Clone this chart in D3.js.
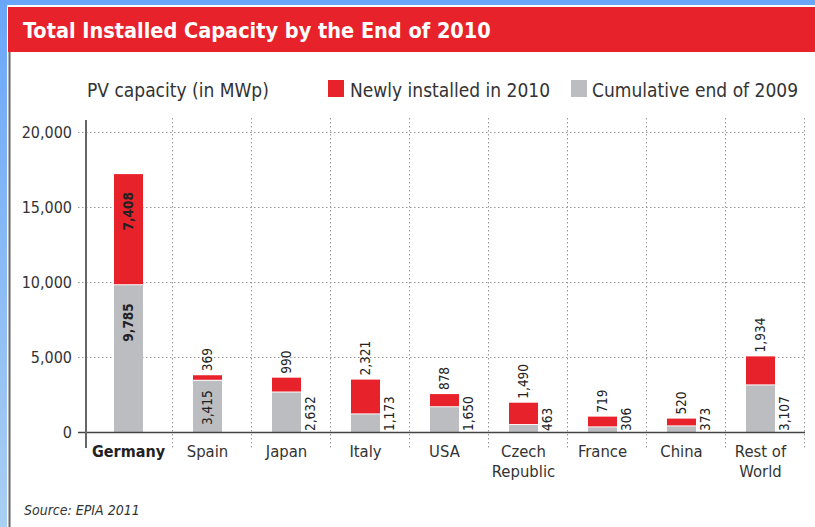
<!DOCTYPE html>
<html>
<head>
<meta charset="utf-8">
<script src="https://cdn.jsdelivr.net/npm/d3@7"></script>
<style>
  body { margin: 0; background: #fff; }
  svg { display: block; font-family: "DejaVu Sans Condensed", "DejaVu Sans", sans-serif; }
</style>
</head>
<body>
<div id="chart"></div>
<script>
const countries = ["Germany", "Spain", "Japan", "Italy", "USA", "Czech Republic", "France", "China", "Rest of World"]
const newly2010 = [7408, 369, 990, 2321, 878, 1490, 719, 520, 1934]
const cum2009 = [9785, 3415, 2632, 1173, 1650, 463, 306, 373, 3107]
const yTicks = [0, 5000, 10000, 15000, 20000]

const W = 815, H = 527
const red = "#e8222b", grey = "#bcbdc0"

const svg = d3.select("#chart").append("svg")
    .attr("width", W).attr("height", H)

// frame
const grad = svg.append("defs").append("linearGradient")
    .attr("id", "side").attr("x1", 0).attr("x2", 0).attr("y1", 0).attr("y2", 1)
grad.append("stop").attr("offset", "0%").attr("stop-color", "#6aa6f8")
grad.append("stop").attr("offset", "100%").attr("stop-color", "#a9cff2")
svg.append("rect").attr("width", W).attr("height", H).attr("fill", "url(#side)")
svg.append("rect").attr("x", 0).attr("y", 0).attr("width", W).attr("height", 5).attr("fill", "#6aa6f8")
svg.append("rect").attr("x", 7).attr("y", 5).attr("width", W - 7).attr("height", H - 5).attr("fill", "#fff")
svg.append("rect").attr("x", 8).attr("y", 7).attr("width", W - 8).attr("height", 45).attr("fill", red)
svg.append("line").attr("x1", 9.5).attr("x2", 9.5).attr("y1", 52).attr("y2", H)
    .attr("stroke", "#666").attr("stroke-width", 2)

svg.append("text").attr("x", 23).attr("y", 38)
    .attr("fill", "#fff").attr("font-size", 21.5).attr("font-weight", "bold")
    .text("Total Installed Capacity by the End of 2010")

// scales
const y = d3.scaleLinear().domain([0, 20000]).range([432, 132])
const x = d3.scaleBand().domain(countries).range([93, 804])
const barW = 29, barOff = 21

const rows = countries.map((c, i) => ({ c: c, n: newly2010[i], g: cum2009[i] }))

// grid
svg.append("g").selectAll("line").data(yTicks.slice(1)).enter().append("line")
    .attr("x1", 78).attr("x2", 805)
    .attr("y1", d => y(d) + 0.5).attr("y2", d => y(d) + 0.5)
    .attr("stroke", "#999").attr("stroke-dasharray", "1.5,2.5")
svg.append("g").selectAll("line").data(countries.slice(1).concat(["end"])).enter().append("line")
    .attr("x1", d => (d == "end" ? 804 : x(d)) + 0.5).attr("x2", d => (d == "end" ? 804 : x(d)) + 0.5)
    .attr("y1", 118).attr("y2", 448)
    .attr("stroke", "#999").attr("stroke-dasharray", "1.5,2.5")

// y axis labels
const yAxis = d3.axisLeft(y).tickValues(yTicks).tickFormat(d3.format(",")).tickSize(0).tickPadding(14)
const ya = svg.append("g").attr("transform", "translate(86,0)").call(yAxis)
ya.select(".domain").remove()
ya.selectAll("text").attr("font-size", 16).attr("fill", "#333")
    .attr("font-family", "DejaVu Sans Condensed, DejaVu Sans, sans-serif")

// bars
const bars = svg.append("g")
bars.selectAll(".g").data(rows).enter().append("rect")
    .attr("x", d => x(d.c) + barOff).attr("width", barW)
    .attr("y", d => y(d.g)).attr("height", d => y(0) - y(d.g))
    .attr("fill", grey)
bars.selectAll(".n").data(rows).enter().append("rect")
    .attr("x", d => x(d.c) + barOff).attr("width", barW)
    .attr("y", d => y(d.g + d.n)).attr("height", d => y(d.g) - y(d.g + d.n) - 1)
    .attr("fill", red)

// axes lines
svg.append("line").attr("x1", 78).attr("x2", 805).attr("y1", 432.5).attr("y2", 432.5)
    .attr("stroke", "#444").attr("stroke-width", 1.5)
svg.append("line").attr("x1", 86).attr("x2", 86).attr("y1", 120).attr("y2", 448)
    .attr("stroke", "#666").attr("stroke-width", 2)

// value labels
const fmt = d3.format(",")
const lab = svg.append("g").attr("font-size", 13.5).attr("fill", "#222")
rows.forEach(d => {
  const cx = x(d.c) + barOff + barW / 2
  const right = x(d.c) + barOff + barW
  if (d.c == "Germany") {
    lab.append("text").attr("transform", `translate(${cx},${y(d.g + d.n) + 18}) rotate(-90)`)
        .attr("text-anchor", "end").attr("dy", "0.35em").attr("font-weight", "bold").text(fmt(d.n))
    lab.append("text").attr("transform", `translate(${cx},${y(d.g) + 18}) rotate(-90)`)
        .attr("text-anchor", "end").attr("dy", "0.35em").attr("font-weight", "bold").text(fmt(d.g))
    return
  }
  lab.append("text").attr("transform", `translate(${cx},${y(d.g + d.n) - 4}) rotate(-90)`)
      .attr("dy", "0.35em").text(fmt(d.n))
  if (d.c == "Spain") {
    lab.append("text").attr("transform", `translate(${cx},${y(0) - 7}) rotate(-90)`)
        .attr("dy", "0.35em").text(fmt(d.g))
  } else {
    lab.append("text").attr("transform", `translate(${right + 9},${y(0) - 1}) rotate(-90)`)
        .attr("dy", "0.35em").text(fmt(d.g))
  }
})

// category labels
const cat = svg.append("g").attr("font-size", 16.5).attr("fill", "#333").attr("text-anchor", "middle")
rows.forEach(d => {
  const cx = x(d.c) + barOff + barW / 2
  const parts = d.c == "Czech Republic" ? ["Czech", "Republic"] : d.c == "Rest of World" ? ["Rest of", "World"] : [d.c]
  parts.forEach((p, j) => {
    const t = cat.append("text").attr("x", cx).attr("y", 457 + j * 19.5).text(p)
    if (d.c == "Germany") t.attr("font-weight", "bold").attr("fill", "#222").attr("font-size", 16)
  })
})

// header + legend
const hdr = svg.append("g").attr("font-size", 19).attr("fill", "#333")
hdr.append("text").attr("x", 87).attr("y", 97).text("PV capacity (in MWp)")
hdr.append("rect").attr("x", 328).attr("y", 80).attr("width", 16).attr("height", 17).attr("fill", red)
hdr.append("text").attr("x", 350).attr("y", 97).text("Newly installed in 2010")
hdr.append("rect").attr("x", 571).attr("y", 80).attr("width", 16).attr("height", 17).attr("fill", grey)
hdr.append("text").attr("x", 592).attr("y", 97).text("Cumulative end of 2009")

svg.append("text").attr("x", 24).attr("y", 515).attr("font-size", 14).attr("font-style", "italic")
    .attr("fill", "#333").text("Source: EPIA 2011")
</script>
</body>
</html>
